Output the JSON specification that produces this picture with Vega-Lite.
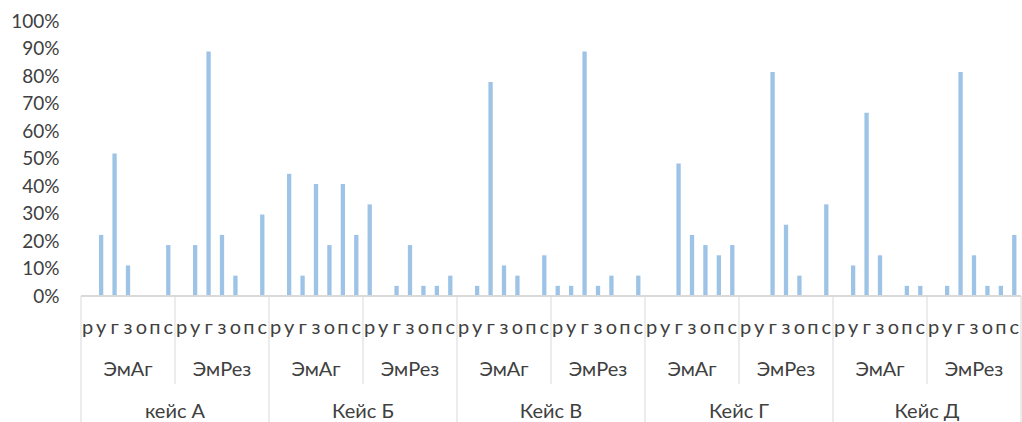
{
  "$schema": "https://vega.github.io/schema/vega-lite/v6.json",
  "autosize": {"type": "none"},
  "width": 940,
  "height": 401,
  "padding": {"left": 81, "top": 21, "right": 1, "bottom": 0},
  "background": "white",
  "config": {"view": {"stroke": null}, "text": {"font": "Lato", "color": "#404040"}},
  "data": {"values": [
    {"k": "A|ЭмАг|р", "case": "кейс А", "group": "ЭмАг", "cat": "р", "v": 0},
    {"k": "A|ЭмАг|у", "case": "кейс А", "group": "ЭмАг", "cat": "у", "v": 0.2222},
    {"k": "A|ЭмАг|г", "case": "кейс А", "group": "ЭмАг", "cat": "г", "v": 0.5185},
    {"k": "A|ЭмАг|з", "case": "кейс А", "group": "ЭмАг", "cat": "з", "v": 0.1111},
    {"k": "A|ЭмАг|о", "case": "кейс А", "group": "ЭмАг", "cat": "о", "v": 0},
    {"k": "A|ЭмАг|п", "case": "кейс А", "group": "ЭмАг", "cat": "п", "v": 0},
    {"k": "A|ЭмАг|с", "case": "кейс А", "group": "ЭмАг", "cat": "с", "v": 0.1852},
    {"k": "A|ЭмРез|р", "case": "кейс А", "group": "ЭмРез", "cat": "р", "v": 0},
    {"k": "A|ЭмРез|у", "case": "кейс А", "group": "ЭмРез", "cat": "у", "v": 0.1852},
    {"k": "A|ЭмРез|г", "case": "кейс А", "group": "ЭмРез", "cat": "г", "v": 0.8889},
    {"k": "A|ЭмРез|з", "case": "кейс А", "group": "ЭмРез", "cat": "з", "v": 0.2222},
    {"k": "A|ЭмРез|о", "case": "кейс А", "group": "ЭмРез", "cat": "о", "v": 0.0741},
    {"k": "A|ЭмРез|п", "case": "кейс А", "group": "ЭмРез", "cat": "п", "v": 0},
    {"k": "A|ЭмРез|с", "case": "кейс А", "group": "ЭмРез", "cat": "с", "v": 0.2963},
    {"k": "Б|ЭмАг|р", "case": "Кейс Б", "group": "ЭмАг", "cat": "р", "v": 0},
    {"k": "Б|ЭмАг|у", "case": "Кейс Б", "group": "ЭмАг", "cat": "у", "v": 0.4444},
    {"k": "Б|ЭмАг|г", "case": "Кейс Б", "group": "ЭмАг", "cat": "г", "v": 0.0741},
    {"k": "Б|ЭмАг|з", "case": "Кейс Б", "group": "ЭмАг", "cat": "з", "v": 0.4074},
    {"k": "Б|ЭмАг|о", "case": "Кейс Б", "group": "ЭмАг", "cat": "о", "v": 0.1852},
    {"k": "Б|ЭмАг|п", "case": "Кейс Б", "group": "ЭмАг", "cat": "п", "v": 0.4074},
    {"k": "Б|ЭмАг|с", "case": "Кейс Б", "group": "ЭмАг", "cat": "с", "v": 0.2222},
    {"k": "Б|ЭмРез|р", "case": "Кейс Б", "group": "ЭмРез", "cat": "р", "v": 0.3333},
    {"k": "Б|ЭмРез|у", "case": "Кейс Б", "group": "ЭмРез", "cat": "у", "v": 0},
    {"k": "Б|ЭмРез|г", "case": "Кейс Б", "group": "ЭмРез", "cat": "г", "v": 0.037},
    {"k": "Б|ЭмРез|з", "case": "Кейс Б", "group": "ЭмРез", "cat": "з", "v": 0.1852},
    {"k": "Б|ЭмРез|о", "case": "Кейс Б", "group": "ЭмРез", "cat": "о", "v": 0.037},
    {"k": "Б|ЭмРез|п", "case": "Кейс Б", "group": "ЭмРез", "cat": "п", "v": 0.037},
    {"k": "Б|ЭмРез|с", "case": "Кейс Б", "group": "ЭмРез", "cat": "с", "v": 0.0741},
    {"k": "В|ЭмАг|р", "case": "Кейс В", "group": "ЭмАг", "cat": "р", "v": 0},
    {"k": "В|ЭмАг|у", "case": "Кейс В", "group": "ЭмАг", "cat": "у", "v": 0.037},
    {"k": "В|ЭмАг|г", "case": "Кейс В", "group": "ЭмАг", "cat": "г", "v": 0.7778},
    {"k": "В|ЭмАг|з", "case": "Кейс В", "group": "ЭмАг", "cat": "з", "v": 0.1111},
    {"k": "В|ЭмАг|о", "case": "Кейс В", "group": "ЭмАг", "cat": "о", "v": 0.0741},
    {"k": "В|ЭмАг|п", "case": "Кейс В", "group": "ЭмАг", "cat": "п", "v": 0},
    {"k": "В|ЭмАг|с", "case": "Кейс В", "group": "ЭмАг", "cat": "с", "v": 0.1481},
    {"k": "В|ЭмРез|р", "case": "Кейс В", "group": "ЭмРез", "cat": "р", "v": 0.037},
    {"k": "В|ЭмРез|у", "case": "Кейс В", "group": "ЭмРез", "cat": "у", "v": 0.037},
    {"k": "В|ЭмРез|г", "case": "Кейс В", "group": "ЭмРез", "cat": "г", "v": 0.8889},
    {"k": "В|ЭмРез|з", "case": "Кейс В", "group": "ЭмРез", "cat": "з", "v": 0.037},
    {"k": "В|ЭмРез|о", "case": "Кейс В", "group": "ЭмРез", "cat": "о", "v": 0.0741},
    {"k": "В|ЭмРез|п", "case": "Кейс В", "group": "ЭмРез", "cat": "п", "v": 0},
    {"k": "В|ЭмРез|с", "case": "Кейс В", "group": "ЭмРез", "cat": "с", "v": 0.0741},
    {"k": "Г|ЭмАг|р", "case": "Кейс Г", "group": "ЭмАг", "cat": "р", "v": 0},
    {"k": "Г|ЭмАг|у", "case": "Кейс Г", "group": "ЭмАг", "cat": "у", "v": 0},
    {"k": "Г|ЭмАг|г", "case": "Кейс Г", "group": "ЭмАг", "cat": "г", "v": 0.4815},
    {"k": "Г|ЭмАг|з", "case": "Кейс Г", "group": "ЭмАг", "cat": "з", "v": 0.2222},
    {"k": "Г|ЭмАг|о", "case": "Кейс Г", "group": "ЭмАг", "cat": "о", "v": 0.1852},
    {"k": "Г|ЭмАг|п", "case": "Кейс Г", "group": "ЭмАг", "cat": "п", "v": 0.1481},
    {"k": "Г|ЭмАг|с", "case": "Кейс Г", "group": "ЭмАг", "cat": "с", "v": 0.1852},
    {"k": "Г|ЭмРез|р", "case": "Кейс Г", "group": "ЭмРез", "cat": "р", "v": 0},
    {"k": "Г|ЭмРез|у", "case": "Кейс Г", "group": "ЭмРез", "cat": "у", "v": 0},
    {"k": "Г|ЭмРез|г", "case": "Кейс Г", "group": "ЭмРез", "cat": "г", "v": 0.8148},
    {"k": "Г|ЭмРез|з", "case": "Кейс Г", "group": "ЭмРез", "cat": "з", "v": 0.2593},
    {"k": "Г|ЭмРез|о", "case": "Кейс Г", "group": "ЭмРез", "cat": "о", "v": 0.0741},
    {"k": "Г|ЭмРез|п", "case": "Кейс Г", "group": "ЭмРез", "cat": "п", "v": 0},
    {"k": "Г|ЭмРез|с", "case": "Кейс Г", "group": "ЭмРез", "cat": "с", "v": 0.3333},
    {"k": "Д|ЭмАг|р", "case": "Кейс Д", "group": "ЭмАг", "cat": "р", "v": 0},
    {"k": "Д|ЭмАг|у", "case": "Кейс Д", "group": "ЭмАг", "cat": "у", "v": 0.1111},
    {"k": "Д|ЭмАг|г", "case": "Кейс Д", "group": "ЭмАг", "cat": "г", "v": 0.6667},
    {"k": "Д|ЭмАг|з", "case": "Кейс Д", "group": "ЭмАг", "cat": "з", "v": 0.1481},
    {"k": "Д|ЭмАг|о", "case": "Кейс Д", "group": "ЭмАг", "cat": "о", "v": 0},
    {"k": "Д|ЭмАг|п", "case": "Кейс Д", "group": "ЭмАг", "cat": "п", "v": 0.037},
    {"k": "Д|ЭмАг|с", "case": "Кейс Д", "group": "ЭмАг", "cat": "с", "v": 0.037},
    {"k": "Д|ЭмРез|р", "case": "Кейс Д", "group": "ЭмРез", "cat": "р", "v": 0},
    {"k": "Д|ЭмРез|у", "case": "Кейс Д", "group": "ЭмРез", "cat": "у", "v": 0.037},
    {"k": "Д|ЭмРез|г", "case": "Кейс Д", "group": "ЭмРез", "cat": "г", "v": 0.8148},
    {"k": "Д|ЭмРез|з", "case": "Кейс Д", "group": "ЭмРез", "cat": "з", "v": 0.1481},
    {"k": "Д|ЭмРез|о", "case": "Кейс Д", "group": "ЭмРез", "cat": "о", "v": 0.037},
    {"k": "Д|ЭмРез|п", "case": "Кейс Д", "group": "ЭмРез", "cat": "п", "v": 0.037},
    {"k": "Д|ЭмРез|с", "case": "Кейс Д", "group": "ЭмРез", "cat": "с", "v": 0.2222}
  ]},
  "encoding": {
    "x": {"field": "k", "type": "nominal", "sort": null, "scale": {"paddingInner": 0, "paddingOuter": 0}, "axis": null}
  },
  "layer": [
    {
      "mark": {"type": "bar", "width": {"band": 0.32}, "color": "#9dc3e6"},
      "encoding": {
        "y": {"field": "v", "type": "quantitative",
          "scale": {"domain": [-0.458, 1], "nice": false, "zero": false},
          "axis": {"values": [0, 0.1, 0.2, 0.3, 0.4, 0.5, 0.6, 0.7, 0.8, 0.9, 1], "format": ".0%", "grid": false, "domain": false, "ticks": false, "labelPadding": 22, "labelFont": "Lato", "labelFontSize": 19, "labelColor": "#404040", "title": null}}
      }
    },
    {
      "mark": {"type": "rule", "color": "#d9d9d9", "strokeWidth": 1},
      "encoding": {"x": null, "y": {"datum": 0}}
    },
    {
      "mark": {"type": "text", "fontSize": 20, "baseline": "alphabetic", "align": "center"},
      "encoding": {"y": {"datum": -0.138}, "text": {"field": "cat"}}
    },
    {
      "transform": [{"filter": "datum.cat == 'з'"}],
      "mark": {"type": "text", "fontSize": 20, "baseline": "alphabetic", "align": "center"},
      "encoding": {"y": {"datum": -0.291}, "text": {"field": "group"}}
    },
    {
      "transform": [{"filter": "datum.cat == 'с' && datum.group == 'ЭмАг'"}],
      "mark": {"type": "text", "fontSize": 20, "baseline": "alphabetic", "align": "center"},
      "encoding": {"x": {"field": "k", "type": "nominal", "bandPosition": 1}, "y": {"datum": -0.444}, "text": {"field": "case"}}
    },
    {
      "transform": [{"filter": "datum.cat == 'р' && datum.group == 'ЭмРез'"}],
      "mark": {"type": "rule", "color": "#d9d9d9", "strokeWidth": 1},
      "encoding": {"x": {"field": "k", "type": "nominal", "bandPosition": 0}, "y": {"datum": 0}, "y2": {"datum": -0.32}}
    },
    {
      "transform": [{"filter": "datum.cat == 'р' && datum.group == 'ЭмАг'"}],
      "mark": {"type": "rule", "color": "#d9d9d9", "strokeWidth": 1},
      "encoding": {"x": {"field": "k", "type": "nominal", "bandPosition": 0}, "y": {"datum": 0}, "y2": {"datum": -0.458}}
    },
    {
      "transform": [{"filter": "datum.k == 'Д|ЭмРез|с'"}],
      "mark": {"type": "rule", "color": "#d9d9d9", "strokeWidth": 1},
      "encoding": {"x": {"field": "k", "type": "nominal", "bandPosition": 1}, "y": {"datum": 0}, "y2": {"datum": -0.458}}
    }
  ]
}
